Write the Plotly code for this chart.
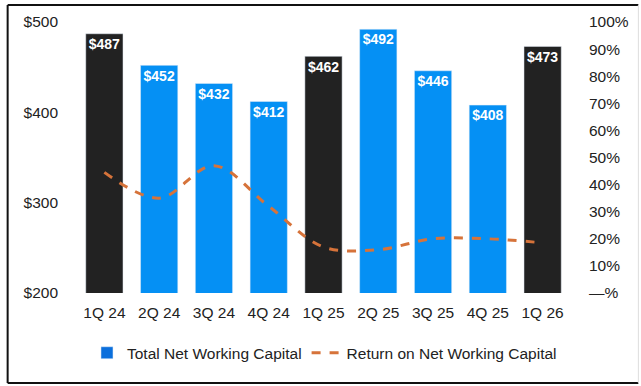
import plotly.graph_objects as go

quarters = ["1Q 24", "2Q 24", "3Q 24", "4Q 24", "1Q 25", "2Q 25", "3Q 25", "4Q 25", "1Q 26"]
nwc = [487, 452, 432, 412, 462, 492, 446, 408, 473]
ronwc = [0.445, 0.35, 0.47, 0.32, 0.17, 0.16, 0.20, 0.20, 0.185]
highlight = [True, False, False, False, True, False, False, False, True]
right_ticks = [0, 0.1, 0.2, 0.3, 0.4, 0.5, 0.6, 0.7, 0.8, 0.9, 1.0]
right_labels = ["—%", "10%", "20%", "30%", "40%", "50%", "60%", "70%", "80%", "90%", "100%"]
left_ticks = [200, 300, 400, 500]
left_labels = ["$200", "$300", "$400", "$500"]

BLACK = "#222222"
BLUE = "#0590F4"
ORANGE = "#D6733A"
FONT = "Liberation Sans, Arial, sans-serif"
TS = 15.5

dark_vals = [v if h else None for v, h in zip(nwc, highlight)]
blue_vals = [None if h else v for v, h in zip(nwc, highlight)]

fig = go.Figure()
for vals, col in [(dark_vals, BLACK), (blue_vals, BLUE)]:
    fig.add_trace(go.Bar(
        x=quarters, y=vals, marker_color=col, width=0.68,
        text=[f"${v}" if v is not None else "" for v in vals],
        textposition="inside", insidetextanchor="end", textangle=0,
        textfont=dict(color="white", size=16, family=FONT, weight="bold"),
        showlegend=False, hoverinfo="skip",
    ))
fig.add_trace(go.Bar(
    x=[quarters[0]], y=[None], marker_color="#0B6FDC",
    name="Total Net Working Capital", showlegend=True,
))
fig.add_trace(go.Scatter(
    x=quarters, y=ronwc, yaxis="y2", mode="lines",
    line=dict(color=ORANGE, width=3, dash="dash", shape="spline", smoothing=1.0),
    name="Return on Net Working Capital",
))

fig.update_layout(
    width=641, height=386,
    margin=dict(l=76.5, r=70.5, t=22, b=93),
    barmode="overlay",
    paper_bgcolor="white", plot_bgcolor="white",
    font=dict(family=FONT, size=TS, color="#222222"),
    xaxis=dict(showgrid=False, showline=False, ticks="", tickfont=dict(size=TS),
               range=[-0.5, 8.5], ticklabelstandoff=8),
    yaxis=dict(range=[200, 500], tickvals=left_ticks, ticktext=left_labels,
               showgrid=False, zeroline=False, showline=False, ticks="",
               tickfont=dict(size=TS), ticklabelstandoff=18),
    yaxis2=dict(range=[0, 1], overlaying="y", side="right", tickvals=right_ticks,
                ticktext=right_labels, showgrid=False, zeroline=False, showline=False,
                ticks="", tickfont=dict(size=TS), ticklabelstandoff=18),
    legend=dict(orientation="h", x=0.502, xanchor="center", y=-0.222, yanchor="middle",
                font=dict(size=15.5), traceorder="normal"),
    showlegend=True,
)

# frame around the chart
x0 = (7 - 76.5) / 494
x1 = (639 - 76.5) / 494
y0 = (293 - 383) / 271
y1 = (293 - 5) / 271
fig.add_shape(type="line", xref="paper", yref="paper", x0=x0, x1=x1, y0=y1, y1=y1,
              line=dict(color="#111111", width=2))
fig.add_shape(type="line", xref="paper", yref="paper", x0=x0, x1=x0, y0=y0, y1=y1,
              line=dict(color="#111111", width=2))
fig.add_shape(type="line", xref="paper", yref="paper", x0=x0, x1=x1, y0=y0, y1=y0,
              line=dict(color="#111111", width=2))
fig.add_shape(type="line", xref="paper", yref="paper", x0=x1, x1=x1, y0=y0, y1=y1,
              line=dict(color="#dddddd", width=1))

fig.write_html("out.html")
